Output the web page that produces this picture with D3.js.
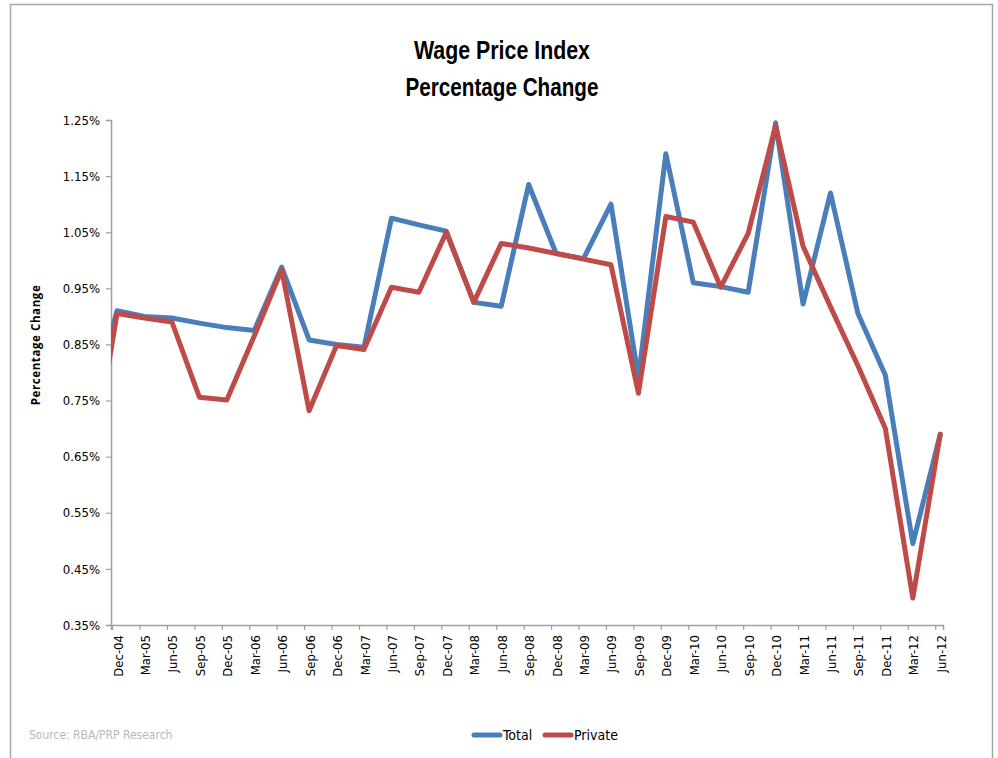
<!DOCTYPE html>
<html>
<head>
<meta charset="utf-8">
<script src="https://cdn.jsdelivr.net/npm/d3@7"></script>
<style>
  html, body { margin: 0; padding: 0; background: #fff; }
  svg { display: block; }
</style>
</head>
<body>
<div id="chart"></div>
<script>
// quarters shown on the axis
var quarters = ["Dec-04","Mar-05","Jun-05","Sep-05","Dec-05","Mar-06","Jun-06","Sep-06","Dec-06","Mar-07",
    "Jun-07","Sep-07","Dec-07","Mar-08","Jun-08","Sep-08","Dec-08","Mar-09","Jun-09","Sep-09",
    "Dec-09","Mar-10","Jun-10","Sep-10","Dec-10","Mar-11","Jun-11","Sep-11","Dec-11","Mar-12","Jun-12"];

// quarterly % change
var totalValues = [0.91,0.90,0.897,0.888,0.88,0.875,0.988,0.858,0.85,0.845,
    1.075,1.063,1.052,0.925,0.918,1.135,1.012,1.003,1.10,0.79,
    1.19,0.96,0.953,0.943,1.245,0.922,1.12,0.905,0.795,0.495,0.69];
var privateValues = [0.905,0.897,0.89,0.756,0.751,0.865,0.983,0.732,0.848,0.841,
    0.952,0.943,1.05,0.925,1.03,1.022,1.012,1.002,0.992,0.763,
    1.078,1.068,0.952,1.048,1.24,1.025,0.917,0.812,0.70,0.398,0.69];

// Sep-04 values, mostly hidden left of the axis
var leadTotal = 0.73;
var leadPrivate = 0.61;

var yTicks = [0.35,0.45,0.55,0.65,0.75,0.85,0.95,1.05,1.15,1.25];

var titleLines = ["Wage Price Index", "Percentage Change"];
var seriesNames = ["Total", "Private"];
var seriesColors = ["#4a7ebb", "#be4b48"];

var attrs = {
    width: 998,
    height: 758,
    plotLeft: 111,
    plotRight: 943,
    plotTop: 120,
    plotBottom: 625,
    lineWidth: 5,
    axisColor: "#a0a0a0",
    font: "'Liberation Sans Narrow', 'DejaVu Sans Condensed', 'Open Sans', sans-serif"
};

var svg = d3.select("#chart").append("svg")
    .attr("width", attrs.width)
    .attr("height", attrs.height);

// outer frame (no bottom edge in the source)
svg.append("path")
    .attr("d", "M10.5," + attrs.height + "V4.5H992.5V" + attrs.height)
    .attr("fill", "none")
    .attr("stroke", "#a6a6a6")
    .attr("stroke-width", 1.5);

// titles, squeezed to the narrow face of the original
var titleWidths = [176, 193];
titleLines.forEach(function(t, i){
    svg.append("text")
        .attr("x", 502 - titleWidths[i] / 2)
        .attr("y", 59 + i * 37)
        .attr("textLength", titleWidths[i])
        .attr("lengthAdjust", "spacingAndGlyphs")
        .style("font-family", "'Liberation Sans', Arial, sans-serif")
        .style("font-weight", "bold")
        .style("font-size", "26px")
        .attr("fill", "#000")
        .text(t);
});

var x = d3.scaleLinear()
    .domain([-0.22, quarters.length - 1 + 0.1])
    .range([attrs.plotLeft, attrs.plotRight]);

var y = d3.scaleLinear()
    .domain([0.35, 1.25])
    .range([attrs.plotBottom, attrs.plotTop]);

// y axis
var yAxis = svg.append("g")
    .attr("transform", "translate(" + attrs.plotLeft + ",0)")
    .call(d3.axisLeft(y).tickValues(yTicks).tickSize(5).tickPadding(6)
        .tickFormat(function(d){ return d.toFixed(2) + "%"; }));
yAxis.select(".domain").attr("stroke", attrs.axisColor).attr("stroke-width", 1.5);
yAxis.selectAll(".tick line").attr("stroke", attrs.axisColor).attr("stroke-width", 1.2);
yAxis.selectAll(".tick text")
    .style("font-family", attrs.font)
    .style("font-size", "13px")
    .attr("fill", "#000");

// x axis
var xAxis = svg.append("g")
    .attr("transform", "translate(0," + attrs.plotBottom + ")")
    .call(d3.axisBottom(x).tickValues(d3.range(quarters.length)).tickSize(5)
        .tickFormat(function(i){ return quarters[i]; }));
xAxis.select(".domain").attr("stroke", attrs.axisColor).attr("stroke-width", 1.5);
xAxis.selectAll(".tick line")
    .attr("stroke", attrs.axisColor)
    .attr("stroke-width", 1.2)
    .attr("transform", "translate(-5,0)");
xAxis.selectAll(".tick text")
    .style("font-family", attrs.font)
    .style("font-size", "13px")
    .attr("fill", "#000")
    .attr("text-anchor", "end")
    .attr("transform", "translate(5,10) rotate(-90)")
    .attr("x", 0)
    .attr("y", 0)
    .attr("dy", "0");

// y axis title
svg.append("text")
    .attr("transform", "translate(40,345) rotate(-90)")
    .attr("text-anchor", "middle")
    .style("font-family", "'Open Sans', 'DejaVu Sans', sans-serif")
    .style("font-weight", "bold")
    .style("font-size", "11.5px")
    .style("letter-spacing", "0.6px")
    .attr("fill", "#000")
    .text("Percentage Change");

// clip so the Sep-04 lead-in stops at the axis
svg.append("clipPath").attr("id", "plotClip")
    .append("rect")
    .attr("x", attrs.plotLeft)
    .attr("y", 0)
    .attr("width", attrs.plotRight - attrs.plotLeft + 10)
    .attr("height", attrs.height);

var line = d3.line()
    .x(function(d){ return x(d.i); })
    .y(function(d){ return y(d.v); });

function toPoints(lead, values){
    var pts = [{i: -1, v: lead}];
    values.forEach(function(v, i){ pts.push({i: i, v: v}); });
    return pts;
}

var allSeries = [toPoints(leadTotal, totalValues), toPoints(leadPrivate, privateValues)];

svg.append("g")
    .attr("clip-path", "url(#plotClip)")
    .selectAll("path")
    .data(allSeries)
    .enter()
    .append("path")
    .attr("d", line)
    .attr("fill", "none")
    .attr("stroke", function(d, i){ return seriesColors[i]; })
    .attr("stroke-width", attrs.lineWidth)
    .attr("stroke-linejoin", "round")
    .attr("stroke-linecap", "round");

// legend
var legend = svg.append("g");
var legendX = [474, 545];
seriesNames.forEach(function(name, i){
    var g = legend.append("g").attr("transform", "translate(" + legendX[i] + ",735)");
    g.append("line")
        .attr("x1", 0).attr("x2", 26)
        .attr("y1", 0).attr("y2", 0)
        .attr("stroke", seriesColors[i])
        .attr("stroke-width", 5)
        .attr("stroke-linecap", "round");
    g.append("text")
        .attr("x", 29)
        .attr("y", 5)
        .style("font-family", attrs.font)
        .style("font-size", "14px")
        .attr("fill", "#000")
        .text(name);
});

// source note
svg.append("text")
    .attr("x", 29)
    .attr("y", 739)
    .style("font-family", attrs.font)
    .style("font-size", "12px")
    .attr("fill", "#b8b8b8")
    .text("Source: RBA/PRP Research");
</script>
</body>
</html>
